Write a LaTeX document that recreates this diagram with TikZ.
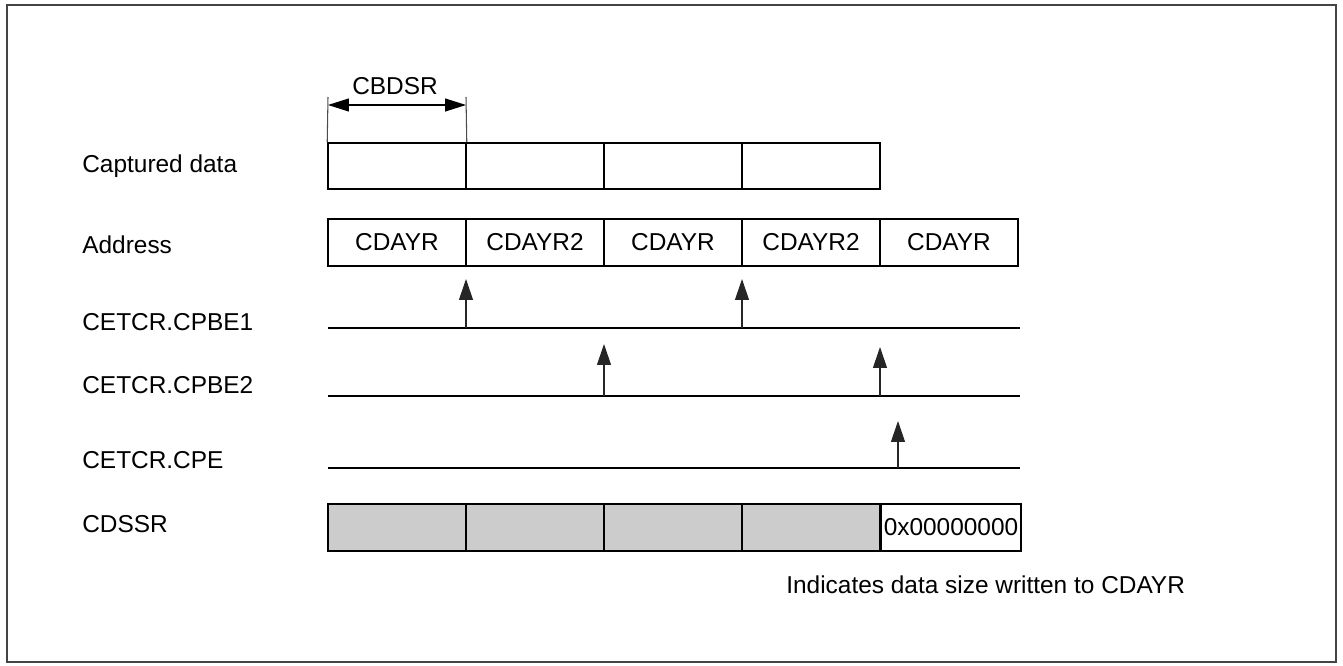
\documentclass[tikz,border=0pt]{standalone}
\usepackage{fontspec}
\setmainfont{Liberation Sans}
\usetikzlibrary{arrows.meta,positioning}
\definecolor{frameGray}{HTML}{444444}
\definecolor{cellGray}{HTML}{CCCCCC}

\begin{document}
\begin{tikzpicture}[x=0.02cm,y=-0.02cm,
    font=\fontsize{13.9}{16}\selectfont,
    cellbox/.style={draw=black,line width=0.9pt,minimum width=2.76cm,
                  minimum height=0.93cm,inner sep=0pt,anchor=center},
    sizebox/.style={cellbox,fill=cellGray},
    rowlabel/.style={anchor=west,inner sep=0pt},
    sigline/.style={black,line width=0.9pt},
    trig/.style={-{Triangle[length=0.42cm,width=0.28cm]},line width=0.65pt,black!85},
    dimarr/.style={{Triangle[length=0.42cm,width=0.26cm]}-{Triangle[length=0.42cm,width=0.26cm]},line width=0.65pt},
    tick/.style={line width=0.6pt,black!70}]
  \useasboundingbox (0,0) rectangle (1343,666);
  \draw[frameGray,line width=1.1pt] (7,5) rectangle (1336,662);

  % row labels
  \node[rowlabel] (lcap) at (82,166) {Captured data};
  \node[rowlabel] (ladr) at (82,245) {Address};
  \node[rowlabel] (lbe1) at (82,322) {CETCR.CPBE1};
  \node[rowlabel] (lbe2) at (82,385) {CETCR.CPBE2};
  \node[rowlabel] (lcpe) at (82,460) {CETCR.CPE};
  \node[rowlabel] (lsz)  at (82,524) {CDSSR};

  % captured data and address cells
  \foreach \i in {1,...,4}
    \node[cellbox] (cap\i) at ({397+138*(\i-1)},166) {};
  \foreach \i/\t in {1/CDAYR,2/CDAYR2,3/CDAYR,4/CDAYR2,5/CDAYR}
    \node[cellbox] (adr\i) at ({397+138*(\i-1)},242.5) {\t};

  % CDSSR cells
  \foreach \i in {1,...,4}
    \node[sizebox] (sz\i) at ({397+138*(\i-1)},527.5) {};
  \node[cellbox,minimum width=2.8cm] (sz5) at (951,527.5) {0x00000000};
  \node[anchor=west,inner sep=0pt] (note) at (786,585) {Indicates data size written to CDAYR};

  % CBDSR dimension
  \coordinate (t1) at (328,97);
  \coordinate (t2) at (466,97);
  \draw[tick] (t1) -- (cap1.north west);
  \draw[tick] (t2) -- (cap1.north east);
  \coordinate (d1) at (328,105);
  \coordinate (d2) at (466,105);
  \draw[dimarr] (d1) -- (d2);
  \node (cbdsr) at (395,86) {CBDSR};

  % trigger lines
  \coordinate (be1a) at (328,328); \coordinate (be1b) at (1020,328);
  \coordinate (be2a) at (328,396); \coordinate (be2b) at (1020,396);
  \coordinate (cpea) at (328,468); \coordinate (cpeb) at (1020,468);
  \draw[sigline] (be1a) -- (be1b);
  \draw[sigline] (be2a) -- (be2b);
  \draw[sigline] (cpea) -- (cpeb);

  % trigger arrows
  \coordinate (p1) at (466,328); \coordinate (q1) at (466,279);
  \coordinate (p2) at (742,328); \coordinate (q2) at (742,279);
  \coordinate (p3) at (604,396); \coordinate (q3) at (604,344);
  \coordinate (p4) at (880,396); \coordinate (q4) at (880,347);
  \coordinate (p5) at (898,468); \coordinate (q5) at (898,421);
  \foreach \n in {1,...,5}
    \draw[trig] (p\n) -- (q\n);
\end{tikzpicture}
\end{document}
